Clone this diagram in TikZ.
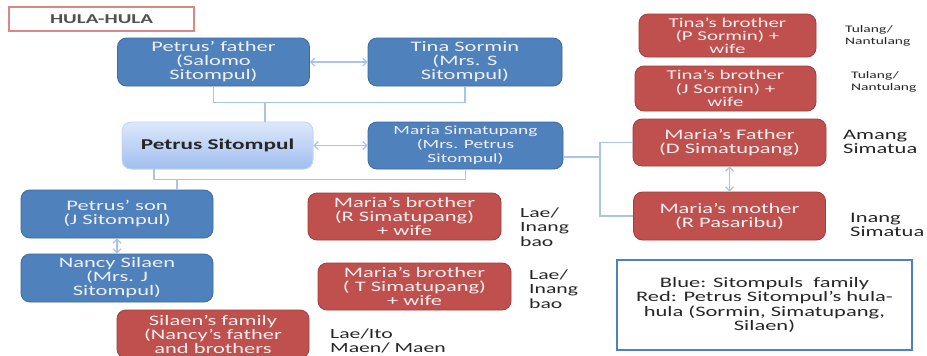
\documentclass[tikz,border=0pt]{standalone}
\usepackage{fontspec}
\setmainfont[FakeStretch=1.55]{Carlito}
\usetikzlibrary{arrows.meta}
\definecolor{boxblue}{HTML}{4F81BD}
\definecolor{edgeblue}{HTML}{3C6A9F}
\definecolor{boxred}{HTML}{C0504D}
\definecolor{edgered}{HTML}{A03E3B}
\definecolor{linkblue}{HTML}{A9C4E4}
\definecolor{paleblue}{HTML}{DDE8FB}
\definecolor{midblue}{HTML}{A1BEF0}
\definecolor{hulared}{HTML}{D98886}
\definecolor{inkgray}{HTML}{262626}
\tikzset{
	bluebox/.style={draw=edgeblue, fill=boxblue, rounded corners=9pt, line width=0.8pt, text=white!94!black, align=center, inner sep=0pt, minimum width=192pt, minimum height=48pt, font=\fontsize{14.5}{14}\selectfont},
	redbox/.style={bluebox, draw=edgered, fill=boxred},
	link/.style={draw=linkblue, line width=1.2pt},
	couple/.style={link, {Straight Barb[length=4pt,width=8pt]}-{Straight Barb[length=4pt,width=8pt]}},
	tag/.style={align=left, anchor=west, text=inkgray, inner sep=0pt, font=\fontsize{14}{14.5}\selectfont},
}

\begin{document}
\begin{tikzpicture}[x=1pt, y=-1pt]
		%%%%% START %%%%%
		
		\fill[white] (0, 0) rectangle (927, 356);
		\useasboundingbox (0, 0) rectangle (927, 356);
		
		\node[draw=hulared, line width=1.2pt, minimum width=185pt, minimum height=24pt, inner sep=0pt, text=inkgray!80, font=\bfseries\fontsize{13.5}{13}\selectfont] (hula) at (101.5, 19) {HULA-HULA};
		
		\node[bluebox] (pfather) at (213.5, 62) {Petrus’ father\\(Salomo\\Sitompul)};
		\node[bluebox, minimum width=194pt] (tina) at (465, 62) {Tina Sormin\\(Mrs. S\\Sitompul)};
		
		\node[bluebox, draw=paleblue!60!midblue, top color=paleblue, bottom color=midblue, text=inkgray, minimum width=191pt, minimum height=47pt, font=\bfseries\fontsize{15}{14}\selectfont] (petrus) at (217.5, 145.5) {Petrus Sitompul};
		\node[bluebox, minimum width=195pt, minimum height=47pt, font=\fontsize{12.5}{14}\selectfont] (maria) at (465.5, 145.5) {Maria Simatupang\\(Mrs. Petrus\\Sitompul)};
		
		\node[bluebox] (son) at (117, 214) {Petrus’ son\\(J Sitompul)};
		\node[bluebox] (nancy) at (117, 278) {Nancy Silaen\\(Mrs. J\\Sitompul)};
		\node[redbox] (silaen) at (213, 334) {Silaen’s family\\(Nancy’s father\\and brothers};
		
		\node[redbox, minimum width=193pt, minimum height=47pt] (rbro) at (404.5, 216.5) {Maria’s brother\\(R Simatupang)\\+ wife};
		\node[redbox, minimum width=193pt, minimum height=47pt] (tbro) at (414.5, 286.5) {Maria’s brother\\( T Simatupang)\\+ wife};
		
		\node[redbox, minimum width=177pt, minimum height=43pt, font=\fontsize{13.5}{13}\selectfont] (pbro) at (727.5, 35.5) {Tina’s brother\\(P Sormin) +\\wife};
		\node[redbox, minimum width=181pt, minimum height=45pt, font=\fontsize{13.5}{13.5}\selectfont] (jbro) at (725.5, 88.5) {Tina’s brother\\(J Sormin) +\\wife};
		\node[redbox, minimum width=193pt, minimum height=47pt] (mfather) at (729.5, 142.5) {Maria’s Father\\(D Simatupang)};
		\node[redbox] (mmother) at (729.5, 216) {Maria’s mother\\(R Pasaribu)};
		
		\node[draw=boxblue, line width=1.5pt, minimum width=295pt, minimum height=90pt, inner sep=0pt, align=center, text=inkgray, font=\fontsize{14.5}{14.5}\selectfont] (legend) at (764.5, 305) {Blue: Sitompuls~ family\\Red: Petrus Sitompul’s hula-\\hula (Sormin, Simatupang,\\Silaen)};
		
		\node[tag, font=\fontsize{10}{12}\selectfont] (tulang1) at (845, 36) {Tulang/\\Nantulang};
		\node[tag, font=\fontsize{10}{12}\selectfont] (tulang2) at (851, 82) {Tulang/\\Nantulang};
		\node[tag, font=\fontsize{14.5}{14}\selectfont] (amang) at (843, 142) {Amang\\Simatua};
		\node[tag, font=\fontsize{14.5}{14}\selectfont] (inang) at (850, 225) {Inang\\Simatua};
		\node[tag] (lae1) at (520, 227) {Lae/\\Inang\\bao};
		\node[tag] (lae2) at (529, 289) {Lae/\\Inang\\bao};
		\node[tag] (laeito) at (330, 341) {Lae/Ito\\Maen/ Maen};
		
		\draw[couple] (pfather) -- (tina);
		\draw[link] (pfather.south) -- ++(0, 16) -| (tina.south);
		\coordinate (pmid) at (265, 102);
		\draw[link] (pmid) -- (pmid |- petrus.north);
		
		\draw[couple] (petrus) -- (maria);
		\draw[link] ([xshift=-63.5pt]petrus.south) -- ++(0, 10) -| (maria.south);
		\coordinate (cmid) at (177, 179);
		\draw[link] (cmid) -- (cmid |- son.north);
		\draw[couple] (son) -- (nancy);
		
		\coordinate (mjoin) at (600, 157);
		\draw[link] ([yshift=-11.5pt]maria.east) -- (mjoin);
		\draw[link] (mfather.west) -| (mjoin) |- (mmother.west);
		\draw[couple] (mfather) -- (mmother);
		
		%%%%% END %%%%%
	\end{tikzpicture}
\end{document}
